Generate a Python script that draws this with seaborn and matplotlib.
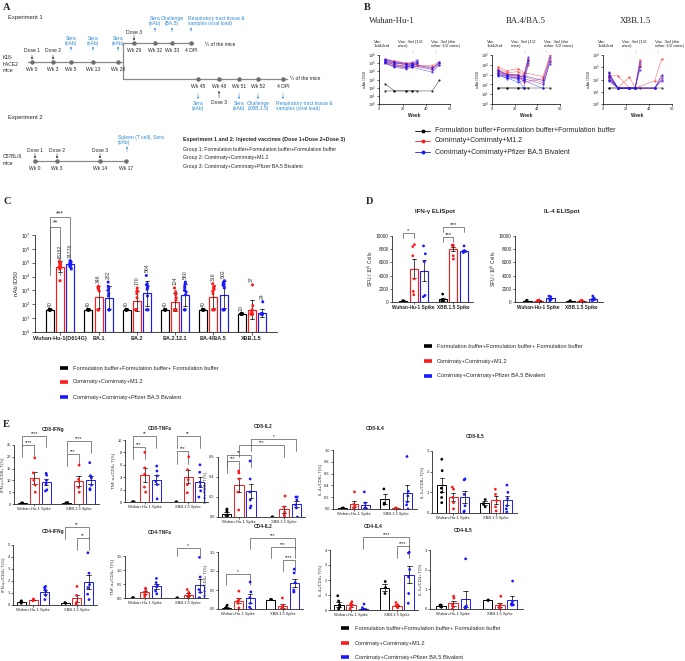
import numpy as np
import pandas as pd
import matplotlib
matplotlib.use("Agg")
import matplotlib.pyplot as plt
import seaborn as sns
from matplotlib.lines import Line2D
from matplotlib.ticker import FixedLocator, LogFormatterMathtext, NullLocator

# ---------------------------------------------------------------- data
GROUPS = ["Formulation buffer+Formulation buffer+Formulation buffer",
          "Comirnaty+Comirnaty+M1.2",
          "Comirnaty+Comirnaty+Pfizer BA.5 Bivalent"]
GROUPS_LEG = ["Formulation buffer+Formulation buffer+ Formulation buffer",
              "Comirnaty+Comirnaty+M1.2",
              "Comirnaty+Comirnaty+Pfizer BA.5 Bivalent"]
COLORS = ["#000000", "#ff1a1a", "#1a1aff"]

# Panel A (schedule labels)
EXP1_PRE_WEEKS = ["Wk 0", "Wk 3", "Wk 5", "Wk 13", "Wk 28"]
EXP1_TOP_WEEKS = ["Wk 29", "Wk 32", "Wk 33", "4 DPI"]
EXP1_BOT_WEEKS = ["Wk 45", "Wk 48", "Wk 51", "Wk 52", "4 DPI"]
EXP2_WEEKS = ["Wk 0", "Wk 3", "Wk 14", "Wk 17"]
VACCINE_HEADER = "Experiment 1 and 2: Injected vaccines (Dose 1+Dose 2+Dose 3)"
VACCINE_GROUPS = ["Group 1: Formulation buffer+Formulation buffer+Formulation buffer",
                  "Group 2: Comirnaty+Comirnaty+M1.2",
                  "Group 3: Comirnaty+Comirnaty+Pfizer BA.5 Bivalent"]

# Panel B: log10 nAb ID50 per mouse (5 values -> arm 1 weeks, 6 values -> arm 2 weeks)
B_WEEKS_ARM1 = [5, 13, 23, 28, 32]
B_WEEKS_ARM2 = [5, 13, 23, 28, 45, 51]
B_VARIANTS = ["Wuhan-Hu-1", "BA.4/BA.5", "XBB.1.5"]
B_WUHAN_G1 = [[2.5, 1.6, 1.6, 1.6, 1.6], [1.6, 1.6, 1.6, 1.6, 1.6, 2.9]]
B_WUHAN_G2 = [[5.5, 5.3, 5.0, 5.1, 4.9], [5.2, 4.9, 4.6, 4.8, 5.2], [5.0, 4.6, 4.4, 4.5, 4.8],
              [5.4, 5.2, 5.0, 4.9, 4.5, 5.0], [5.1, 4.8, 4.5, 4.7, 4.2, 4.8], [5.3, 5.0, 4.8, 4.6, 4.7, 5.2]]
B_WUHAN_G3 = [[5.4, 5.1, 4.8, 5.0, 5.4], [5.1, 4.6, 4.5, 4.7, 5.0], [5.3, 5.0, 4.9, 4.8, 5.2],
              [5.5, 5.2, 4.9, 4.9, 4.4, 5.1], [5.0, 4.5, 4.3, 4.5, 3.9, 4.8], [5.2, 4.8, 4.6, 4.7, 4.3, 5.0]]
B_BA5_G1 = [[1.6, 1.6, 1.6, 1.6, 1.6], [1.6, 1.6, 1.6, 1.6, 1.6, 1.6]]
B_BA5_G2 = [[3.6, 3.2, 3.3, 3.0, 4.6], [3.3, 3.0, 2.9, 2.7, 4.4], [3.0, 2.8, 3.0, 2.5, 4.0],
            [3.8, 3.4, 3.6, 3.2, 2.8, 5.0], [3.2, 2.9, 2.7, 2.8, 2.2, 4.6], [3.4, 3.1, 2.9, 2.2, 2.6, 4.3]]
B_BA5_G3 = [[3.4, 3.0, 2.8, 2.8, 4.8], [3.0, 2.6, 2.7, 2.4, 4.5], [3.2, 2.9, 2.5, 1.6, 4.2],
            [3.5, 3.0, 3.0, 2.9, 2.4, 4.8], [2.9, 2.7, 2.2, 2.4, 1.6, 4.4], [3.1, 2.8, 2.6, 2.6, 2.0, 4.1]]
B_XBB_G1 = [[1.3, 1.3, 1.3, 1.3, 1.3], [1.3, 1.3, 1.3, 1.3, 1.3, 1.3]]
B_XBB_G2 = [[2.5, 1.3, 1.3, 1.3, 3.6], [2.3, 2.3, 1.3, 1.3, 3.3], [2.1, 1.3, 2.2, 1.3, 3.0],
            [2.4, 1.3, 1.3, 1.3, 1.9, 3.7], [2.2, 1.3, 1.3, 1.3, 1.3, 2.3], [2.0, 1.3, 1.3, 1.3, 1.3, 2.0]]
B_XBB_G3 = [[2.6, 1.3, 1.3, 1.3, 3.4], [2.3, 1.3, 1.3, 1.3, 3.1], [2.0, 1.3, 1.3, 1.3, 2.8],
            [2.5, 1.3, 1.3, 1.3, 1.3, 2.4], [2.2, 1.3, 1.3, 1.3, 1.3, 2.1], [1.9, 1.3, 1.3, 1.3, 1.3, 1.9]]
B_YMAX_EXP = [6, 5, 4]

# Panel C: nAb ID50 per mouse, rows = variants
C_VARIANTS = ["Wuhan-Hu-1(D614G)", "BA.1", "BA.2", "BA.2.12.1", "BA.4/BA.5", "XBB.1.5"]
C_G1 = [[40] * 10, [40] * 10, [40] * 10, [40] * 10, [40] * 10, [20] * 10]
C_G2 = [[1.2e5, 1e5, 9e4, 8e4, 7e4, 6e4, 5e4, 4e4, 3.5e4, 5e3],
        [2000, 1800, 1700, 1500, 1200, 900, 40, 40, 40, 40],
        [1500, 1000, 800, 600, 300, 40, 40, 40, 40, 40],
        [1500, 800, 500, 300, 200, 40, 40, 40, 40, 40],
        [3000, 2000, 1500, 1200, 900, 600, 40, 40, 40, 40],
        [2500, 80, 40, 30, 20, 20, 20, 20, 20, 20]]
C_G3 = [[1.4e5, 1.26e5, 1.12e5, 8.9e4, 7.9e4, 7.1e4, 6.3e4, 5.6e4, 5e4, 3.5e4],
        [4000, 2000, 1500, 1000, 600, 400, 40, 40, 40, 40],
        [12000, 3000, 2500, 2000, 1500, 1200, 400, 40, 40, 40],
        [4000, 3000, 2000, 1500, 1000, 800, 500, 40, 40, 40],
        [5000, 3500, 3000, 2500, 2000, 1500, 40, 40, 40, 40],
        [150, 20, 20, 20, 20, 20, 20, 20, 20, 20]]
C_LABELS_G1 = ["40", "40", "40", "40", "40", "20"]
C_LABELS_G2 = ["48162", "346", "170", "124", "316", "37"]
C_LABELS_G3 = ["74776", "282", "564", "560", "502", "24"]

# Panel D: SFU / 10^6 cells, [group][antigen]
D_ANTIGENS = ["Wuhan-Hu-1 Spike", "XBB.1.5 Spike"]
D_IFNG = [[[100, 150, 200, 50, 100], [1200, 300, 200, 100, 100]],
          [[8700, 8400, 7000, 3500, 1600, 1100], [8600, 8600, 8600, 8600, 8500, 7000, 6500]],
          [[8500, 7300, 6100, 1000, 800], [8500, 7700, 7600, 7600, 7500, 7800]]]
D_IL4 = [[[150, 200, 100, 250, 100], [150, 100, 200]],
         [[200, 250, 150, 300], [150, 200, 250, 100]],
         [[800, 500, 300, 200, 900], [900, 600, 300, 200, 400]]]

# Panel E: % of T cells, [group][antigen]
E_ANTIGENS = ["Wuhan-Hu-1 Spike", "XBB.1.5 Spike"]
E_CD8_IFNG = [[[0.2, 0.3, 0.4, 0.5, 0.2, 0.3], [0.4, 0.5, 0.6]],
              [[19.5, 13.2, 10.0, 8.0, 5.0], [16.5, 10.5, 9.5, 7.0, 5.0]],
              [[13.0, 12.2, 10.0, 8.5, 6.0, 5.5], [17.5, 12.0, 11.0, 8.0, 6.5, 6.0]]]
E_CD8_TNFA = [[[0, 0, 0, 0, 0, 0], [0, 0, 0]],
              [[8.0, 5.5, 4.5, 2.4, 1.6], [7.3, 5.2, 3.6, 2.8, 1.5]],
              [[5.8, 5.0, 4.2, 3.3, 2.8, 0.5], [6.0, 4.8, 3.2, 2.6, 1.8, 0.8]]]
E_CD8_IL2 = [[[0.08, 0.07, 0.05, 0.01, 0.0, 0.0], [0.0, 0.0, 0.0]],
             [[0.46, 0.44, 0.38, 0.25, 0.07], [0.21, 0.10, 0.05, 0.02, 0.0]],
             [[0.56, 0.38, 0.25, 0.17, 0.09, 0.11], [0.20, 0.20, 0.17, 0.12, 0.09, 0.0]]]
E_CD8_IL4 = [[[0.01, 0.01, 0.02, 0.0, 0.01, 0.01], [0.34, 0.08, 0.10]],
             [[0.29, 0.08, 0.05, 0.02, 0.01], [0.01, 0.02, 0.01, 0.0, 0.01]],
             [[0.29, 0.10, 0.02, 0.01, 0.0, 0.0], [0.89, 0.30, 0.22, 0.12, 0.07, 0.0]]]
E_CD8_IL5 = [[[2.6, 2.05, 1.2, 1.0, 0.75, 0.5], [0.65, 0.45, 0.3]],
             [[1.25, 1.15, 0.75, 0.5, 0.2], [1.15, 0.9, 0.6, 0.3, 0.1]],
             [[1.65, 1.6, 0.9, 0.35, 0.1, 0.05], [1.35, 1.0, 0.7, 0.35, 0.2, 0.05]]]
E_CD4_IFNG = [[[0.35, 0.3, 0.25, 0.2, 0.15, 0.25], [0.2, 0.15, 0.15]],
              [[0.5, 0.45, 0.4, 0.35, 0.4], [1.55, 0.8, 0.25, 0.15, 0.0]],
              [[1.55, 1.45, 1.3, 1.1, 0.8, 0.45], [4.35, 2.65, 1.7, 1.45, 0.9, 0.45]]]
E_CD4_TNFA = [[[0, 0, 0, 0, 0, 0], [0, 0, 0]],
              [[0.35, 0.3, 0.2, 0.1, 0.05], [0.3, 0.2, 0.1, 0.0, 0.0]],
              [[0.7, 0.55, 0.45, 0.4, 0.25, 0.15], [1.45, 0.75, 0.3, 0.2, 0.0, 0.0]]]
E_CD4_IL2 = [[[0.1, 0.05, 0.02, 0.02, 0.0, 0.0], [0.25, 0.25, 0.25]],
             [[0.47, 0.25, 0.2, 0.15, 0.03], [0.29, 0.1, 0.02, 0.01, 0.0]],
             [[0.71, 0.45, 0.3, 0.15, 0.05, 0.0], [1.05, 0.95, 0.7, 0.5, 0.45, 0.45]]]
E_CD4_IL4 = [[[0.95, 0.6, 0.35, 0.2, 0.1, 0.0], [1.9, 1.5, 1.1]],
             [[0.55, 0.45, 0.3, 0.2, 0.05], [0.5, 0.35, 0.3, 0.2, 0.15]],
             [[0.4, 0.15, 0.05, 0.0, 0.0, 0.0], [3.8, 3.85, 2.7, 2.2, 1.1, 0.45]]]
E_CD4_IL5 = [[[0.2, 0.15, 0.15, 0.1, 0.2, 0.1], [0.45, 0.45, 0.45]],
             [[0.65, 0.55, 0.2, 0.1, 0.0], [0.65, 0.2, 0.1, 0.05, 0.0]],
             [[2.55, 0.15, 0.1, 0.1, 0.05, 0.05], [1.42, 0.4, 0.3, 0.25, 0.2, 0.2]]]
E_TITLES = ["CD8-IFNg", "CD8-TNFa", "CD8-IL2", "CD8-IL4", "CD8-IL5",
            "CD4-IFNg", "CD4-TNFa", "CD4-IL2", "CD4-IL4", "CD4-IL5"]
E_YLABELS = ["IFN-γ+/CD8+ T(%)", "TNF-α+/CD8+ T(%)", "IL-2+/CD8+ T(%)", "IL-4+/CD8+ T(%)",
             "IL-5+/CD8+ T(%)", "IFN-γ+/CD4+ T(%)", "TNF-α+/CD4+ T(%)", "IL-2+/CD4+ T(%)",
             "IL-4+/CD4+ T(%)", "IL-5+/CD4+ T(%)"]
E_YTICKS = [[0, 5, 10, 15, 20, 25], [0, 2, 4, 6, 8, 10], [0.0, 0.2, 0.4, 0.6],
            [0.0, 0.2, 0.4, 0.6, 0.8, 1.0], [0, 1, 2, 3], [0, 1, 2, 3, 4, 5],
            [0.0, 0.5, 1.0, 1.5], [0.0, 0.5, 1.0, 1.5], [0, 1, 2, 3, 4], [0, 1, 2, 3]]
E_TICKFMT = ["{:g}", "{:g}", "{:.1f}", "{:.1f}", "{:g}", "{:g}", "{:.1f}", "{:.1f}", "{:g}", "{:g}"]
# significance: (antigen a, group a, antigen b, group b, height, text)
E_SIG = [
    [(0, 0, 0, 2, 29, "****"), (0, 0, 0, 1, 24.8, "****"), (1, 0, 1, 2, 26.5, "****"), (1, 0, 1, 1, 21, "***")],
    [(0, 0, 0, 2, 10.7, "**"), (0, 0, 0, 1, 8.9, "***"), (1, 0, 1, 2, 10.7, "**"), (1, 0, 1, 1, 8.2, "***")],
    [(0, 0, 0, 1, 0.56, "***"), (0, 0, 0, 2, 0.62, "**"), (0, 1, 1, 1, 0.72, "***"), (0, 2, 1, 2, 0.78, "*")],
    [], [],
    [(1, 0, 1, 2, 6.5, "**"), (1, 1, 1, 2, 5.6, "**")],
    [(1, 0, 1, 2, 1.8, "*")],
    [(0, 0, 0, 2, 0.92, "*"), (0, 2, 1, 2, 1.87, "***"), (1, 0, 1, 2, 1.63, "***"), (1, 1, 1, 2, 1.29, "****")],
    [(0, 2, 1, 2, 4.87, "****"), (1, 1, 1, 2, 4.27, "****")],
    [],
]
C_SIG = [(0, 0, 0, 1, 7.6, "**"), (0, 0, 0, 2, 8.3, "***")]   # heights in log10 units
D_IFNG_SIG = [(0, 0, 0, 1, 10450, "*"), (1, 0, 1, 2, 11400, "***"), (1, 0, 1, 1, 9850, "***")]

# ---------------------------------------------------------------- setup
sns.set_theme(style="ticks")
plt.rcParams["font.family"] = ["Liberation Sans", "DejaVu Sans"]
plt.rcParams["axes.linewidth"] = 0.6
plt.rcParams["xtick.major.width"] = 0.5
plt.rcParams["ytick.major.width"] = 0.5
np.random.seed(3)

W, H = 685, 661
fig = plt.figure(figsize=(W / 100, H / 100), dpi=100)
fig.patch.set_facecolor("white")


def px_axes(l, t, r, b):
    return fig.add_axes([l / W, 1 - b / H, (r - l) / W, (b - t) / H])


def ftext(x, y, s, **kw):
    fig.text(x / W, 1 - y / H, s, **kw)


def letter(x, y, s):
    ftext(x, y, s, fontsize=7.5, fontweight="bold", family="Liberation Serif", va="top", ha="left")


def legend_rows(x0, x1, xt, ys, labels, fs, marker=None, lw=2.6, ms=2.5):
    for y, lab, c in zip(ys, labels, COLORS):
        yy = 1 - y / H
        if marker:
            fig.add_artist(Line2D([x0 / W, (x0 + x1) / 2 / W, x1 / W], [yy] * 3, color=c, lw=0.6,
                                  marker=marker, markevery=[1], ms=ms))
        else:
            fig.add_artist(Line2D([x0 / W, x1 / W], [yy, yy], color=c, lw=lw, solid_capstyle="butt"))
        fig.text(xt / W, yy, lab, fontsize=fs, va="center", ha="left")


def long_df(values, cats, transform=None):
    rows = []
    for g, per_cat in enumerate(values):
        for c, pts in enumerate(per_cat):
            for v in pts:
                rows.append((cats[c], GROUPS[g], transform(v) if transform else v))
    return pd.DataFrame(rows, columns=["cat", "grp", "val"])


def bar_centers(ax):
    return [sorted(p.get_x() + p.get_width() / 2 for p in cont) for cont in ax.containers[:3]]


def bar_panel(ax, values, cats, log=False, lw=0.75, size=2.0, jitter=0.07):
    df = long_df(values, cats, np.log10 if log else None)
    kw = dict(data=df, x="cat", y="val", hue="grp", order=cats, hue_order=GROUPS,
              palette=COLORS, ax=ax, legend=False)
    sns.barplot(**kw, fill=False, gap=0.22, errorbar=("sd" if log else "se"), capsize=0.3,
                linewidth=lw, err_kws={"linewidth": 0.5})
    # colour each error bar like its own bar
    cen = bar_centers(ax)
    for line in ax.lines:
        xm = np.mean(line.get_xdata())
        g = int(np.argmin([min(abs(np.array(c) - xm)) for c in cen]))
        line.set_color(COLORS[g])
    sns.stripplot(**kw, dodge=True, jitter=jitter, size=size, linewidth=0, zorder=3)
    return df


def add_sig(ax, sigs, fs=3.6, drop=0.14):
    cen = bar_centers(ax)
    lo, hi = ax.get_ylim()
    for ca, ga, cb, gb, y, txt in sigs:
        xa, xb = cen[ga][ca], cen[gb][cb]
        d = y - drop * (hi - lo)
        ax.plot([xa, xa, xb, xb], [d, y, y, d], color="#555555", lw=0.5, clip_on=False)
        ax.text((xa + xb) / 2, y, txt, ha="center", va="bottom", fontsize=fs, clip_on=False)


def style_small(ax, fs=3.2):
    sns.despine(ax=ax)
    ax.tick_params(axis="both", length=1.5, pad=0.8, labelsize=fs)
    ax.set_xlabel("")


# ---------------------------------------------------------------- Panel A
axA = fig.add_axes([0, 1 - 180 / H, 340 / W, 180 / H])
axA.set_xlim(0, 340)
axA.set_ylim(180, 0)
axA.axis("off")
GRAY, BLUE_T, fsA = "#8a8a8a", "#2e8ad8", 3.6
letter(3, 3, "A")
axA.text(8, 18, "Experiment 1", fontsize=4.2, va="center")
axA.text(3, 64, "K18-\nhACE2\nmice", fontsize=fsA, va="center", linespacing=1.3)


def arrow(x, y0, y1, color="k"):
    axA.annotate("", xy=(x, y1), xytext=(x, y0),
                 arrowprops=dict(arrowstyle="-|>", lw=0.35, color=color, mutation_scale=2.5,
                                 shrinkA=0, shrinkB=0))


def timeline(xs, y, x_start, x_end, labels, label_dy=5):
    axA.plot([x_start, x_end], [y, y], color=GRAY, lw=0.9, zorder=1)
    axA.plot(xs, [y] * len(xs), "o", color="#6e6e6e", ms=2.2, zorder=2)
    for x, l in zip(xs, labels):
        axA.text(x, y + label_dy, l, ha="center", va="top", fontsize=fsA)


xs_pre = [32, 53, 71, 93, 118]
timeline(xs_pre, 62, 28, 123, EXP1_PRE_WEEKS)
for x, l in zip(xs_pre[:2], ["Dose 1", "Dose 2"]):
    axA.text(x, 51, l, ha="center", va="center", fontsize=fsA)
    arrow(x, 55, 59.5)
for x in xs_pre[2:]:
    axA.text(x, 41, "Sera\n(nAb)", ha="center", va="center", fontsize=fsA, color=BLUE_T, linespacing=1.1)
    arrow(x, 51, 46.5, BLUE_T)
axA.plot([123, 123], [43, 79], color=GRAY, lw=0.9)
xs_top = [134, 155, 172, 191]
timeline(xs_top, 43, 123, 193, EXP1_TOP_WEEKS)
axA.text(134, 32, "Dose 3", ha="center", va="center", fontsize=fsA)
arrow(134, 35, 40.5)
axA.text(155, 21, "Sera\n(nAb)", ha="center", va="center", fontsize=fsA, color=BLUE_T, linespacing=1.1)
axA.text(172, 21, "Challenge\n(BA.5)", ha="center", va="center", fontsize=fsA, color=BLUE_T, linespacing=1.1)
axA.text(188, 21, "Respiratory tract tissue &\nsamples (viral load)", ha="left", va="center",
         fontsize=fsA, color=BLUE_T, linespacing=1.1)
for x in [155, 172, 191]:
    arrow(x, 32, 27.5, BLUE_T)
axA.text(205, 44, "½ of the mice", ha="left", va="center", fontsize=fsA)
xs_bot = [198, 219, 239, 258, 283]
timeline(xs_bot, 79, 123, 287, EXP1_BOT_WEEKS)
axA.text(290, 79, "½ of the mice", ha="left", va="center", fontsize=fsA)
for x in [198, 239, 258, 283]:
    arrow(x, 93, 99, BLUE_T)
axA.text(198, 106, "Sera\n(nAb)", ha="center", va="center", fontsize=fsA, color=BLUE_T, linespacing=1.1)
axA.text(219, 103, "Dose 3", ha="center", va="center", fontsize=fsA)
arrow(219, 98, 91)
axA.text(239, 106, "Sera\n(nAb)", ha="center", va="center", fontsize=fsA, color=BLUE_T, linespacing=1.1)
axA.text(258, 106, "Challenge\n(XBB.1.5)", ha="center", va="center", fontsize=fsA, color=BLUE_T, linespacing=1.1)
axA.text(276, 106, "Respiratory tract tissue &\nsamples (viral load)", ha="left", va="center",
         fontsize=fsA, color=BLUE_T, linespacing=1.1)
axA.text(8, 117, "Experiment 2", fontsize=4.2, va="center")
axA.text(3, 160, "C57BL/6\nmice", fontsize=fsA, va="center", linespacing=1.3)
xs_e2 = [35, 57, 100, 126]
timeline(xs_e2, 161, 33, 127, EXP2_WEEKS)
for x, l in zip(xs_e2[:3], ["Dose 1", "Dose 2", "Dose 3"]):
    axA.text(x, 150, l, ha="center", va="center", fontsize=fsA)
    arrow(x, 153.5, 158.5)
axA.text(118, 140, "Spleen (T cell), Sera\n(nAb)", ha="left", va="center", fontsize=fsA,
         color=BLUE_T, linespacing=1.1)
arrow(127, 152, 146.5, BLUE_T)
axA.text(183, 140, VACCINE_HEADER, ha="left", va="center", fontsize=3.9, fontweight="bold")
for i, g in enumerate(VACCINE_GROUPS):
    axA.text(183, 149 + 8.6 * i, g, ha="left", va="center", fontsize=3.7)

# ---------------------------------------------------------------- Panel B
letter(364, 3, "B")
B_DATA = [(B_WUHAN_G1, B_WUHAN_G2, B_WUHAN_G3),
          (B_BA5_G1, B_BA5_G2, B_BA5_G3),
          (B_XBB_G1, B_XBB_G2, B_XBB_G3)]
B_BOXES = [(379, 55, 450, 104), (492, 55, 560, 104), (603, 55, 672, 104)]
B_TITLE_X = [392, 526, 636]
for vi, (box, gdata) in enumerate(zip(B_BOXES, B_DATA)):
    ax = px_axes(*box)
    rows = []
    for g, mice in enumerate(gdata):
        for m, vals in enumerate(mice):
            weeks = B_WEEKS_ARM1 if len(vals) == 5 else B_WEEKS_ARM2
            for w, v in zip(weeks, vals):
                rows.append((GROUPS[g], f"{g}-{m}", w, 10 ** v))
    dfb = pd.DataFrame(rows, columns=["grp", "mouse", "week", "val"])
    sns.lineplot(data=dfb, x="week", y="val", hue="grp", units="mouse", estimator=None,
                 hue_order=GROUPS, palette=COLORS, marker="o", markersize=1.6, markeredgewidth=0,
                 linewidth=0.35, alpha=0.75, legend=False, ax=ax)
    ax.set_yscale("log")
    ax.set_ylim(1, 10 ** B_YMAX_EXP[vi])
    ax.yaxis.set_major_locator(FixedLocator([10 ** k for k in range(B_YMAX_EXP[vi] + 1)]))
    ax.yaxis.set_major_formatter(LogFormatterMathtext())
    ax.yaxis.set_minor_locator(NullLocator())
    ax.set_xlim(0, 60)
    ax.set_xticks([0, 20, 40, 60])
    style_small(ax, 2.8)
    ax.set_xlabel("Week", fontsize=3.4, fontweight="bold", labelpad=1)
    ax.set_ylabel("nAb ID50", fontsize=3.0, labelpad=1)
    ftext(B_TITLE_X[vi], 21, B_VARIANTS[vi], ha="center", va="center", fontsize=6.3,
          family="Liberation Serif")
    l = box[0]
    ftext(l - 5, 44, "Vac.\n1st&2nd", fontsize=3.2, va="center", ha="left", linespacing=1.2)
    ftext(l + 19, 44, "Vac. 3rd (1/2\nmice)", fontsize=3.2, va="center", ha="left", linespacing=1.2)
    ftext(l + 52, 44, "Vac. 3rd (the\nother 1/2 mice)", fontsize=3.2, va="center", ha="left",
          linespacing=1.2)
    for wk in [29, 48]:
        ax.plot([wk, wk], [1.04, 1.12], transform=ax.get_xaxis_transform(), color="#777777",
                lw=0.35, ls=":", clip_on=False)
legend_rows(415, 430, 435, [131, 141, 152], GROUPS, 5.0, marker="o", ms=1.8)

# ---------------------------------------------------------------- Panel C (log10 space)
letter(3, 197, "C")
axC = px_axes(35, 235, 277, 332)
bar_panel(axC, [C_G1, C_G2, C_G3], C_VARIANTS, log=True, lw=0.85, size=2.2, jitter=0.08)
axC.set_ylim(0, 7)
axC.set_yticks(range(8))
axC.set_yticklabels([f"10$^{{{k}}}$" for k in range(8)])
sns.despine(ax=axC)
axC.tick_params(axis="y", length=2, pad=1, labelsize=3.6)
axC.tick_params(axis="x", length=2, pad=1, labelsize=4.0)
for t in axC.get_xticklabels():
    t.set_fontweight("bold")
axC.set_xlabel("")
axC.set_ylabel("nAb ID50", fontsize=4.3, labelpad=1.5)
cen = bar_centers(axC)
for g, (vals, labs) in enumerate(zip([C_G1, C_G2, C_G3], [C_LABELS_G1, C_LABELS_G2, C_LABELS_G3])):
    for c, (pts, lab) in enumerate(zip(vals, labs)):
        axC.text(cen[g][c], np.log10(max(pts)) + 0.22, lab, rotation=90, ha="center", va="bottom",
                 fontsize=3.7, color="#333333", clip_on=False)
add_sig(axC, C_SIG, fs=5, drop=0.5)
legend_rows(60, 68, 73, [368, 382, 397], GROUPS_LEG, 4.1)

# ---------------------------------------------------------------- Panel D
letter(366, 197, "D")
D_BOXES = [(392, 236, 473, 302), (515, 236, 603, 302)]
for i, (box, vals, title, tx) in enumerate(zip(D_BOXES, [D_IFNG, D_IL4],
                                               ["IFN-γ ELISpot", "IL-4 ELISpot"], [435, 562])):
    ax = px_axes(*box)
    bar_panel(ax, vals, D_ANTIGENS, lw=0.8, size=2.0, jitter=0.08)
    ax.set_ylim(0, 10000)
    ax.set_yticks([0, 2000, 4000, 6000, 8000, 10000])
    ax.set_xlim(-0.55, 1.5)
    style_small(ax, 3.4)
    for t in ax.get_xticklabels():
        t.set_fontweight("bold")
    ax.set_ylabel("SFU / 10$^6$ Cells", fontsize=3.6, labelpad=1)
    ftext(tx, 212, title, ha="center", va="center", fontsize=4.4, fontweight="bold")
    if i == 0:
        add_sig(ax, D_IFNG_SIG, fs=4.5, drop=0.08)
legend_rows(424, 432, 437, [346, 361, 376], GROUPS_LEG, 4.1)

# ---------------------------------------------------------------- Panel E
letter(3, 420, "E")
E_VALUES = [E_CD8_IFNG, E_CD8_TNFA, E_CD8_IL2, E_CD8_IL4, E_CD8_IL5,
            E_CD4_IFNG, E_CD4_TNFA, E_CD4_IL2, E_CD4_IL4, E_CD4_IL5]
E_BOXES = [(14, 445, 99, 504), (125, 440, 208, 502), (218, 457, 305, 517), (333, 450, 417, 509),
           (432, 451, 517, 513),
           (13, 545, 97, 605), (125, 556, 208, 598), (218, 552, 303, 609), (330, 550, 418, 610),
           (430, 550, 523, 609)]
E_TITLE_XY = [(53, 429), (160, 429), (263, 427), (375, 428), (475, 436),
              (53, 531), (160, 533), (263, 527), (373, 526), (463, 531)]
for i in range(10):
    ax = px_axes(*E_BOXES[i])
    bar_panel(ax, E_VALUES[i], E_ANTIGENS, lw=0.7, size=2.0, jitter=0.07)
    ticks = E_YTICKS[i]
    ax.set_ylim(0, ticks[-1])
    ax.set_yticks(ticks)
    ax.set_yticklabels([E_TICKFMT[i].format(t) for t in ticks])
    style_small(ax, 2.9)
    ax.set_ylabel(E_YLABELS[i], fontsize=3.0, labelpad=1)
    ftext(E_TITLE_XY[i][0], E_TITLE_XY[i][1], E_TITLES[i], ha="center", va="center",
          fontsize=3.5, fontweight="bold")
    add_sig(ax, E_SIG[i], fs=3.4, drop=0.2)
legend_rows(341, 349, 355, [628, 643, 657], GROUPS_LEG, 4.1)

fig.savefig("out.png", dpi=100, facecolor="white")
